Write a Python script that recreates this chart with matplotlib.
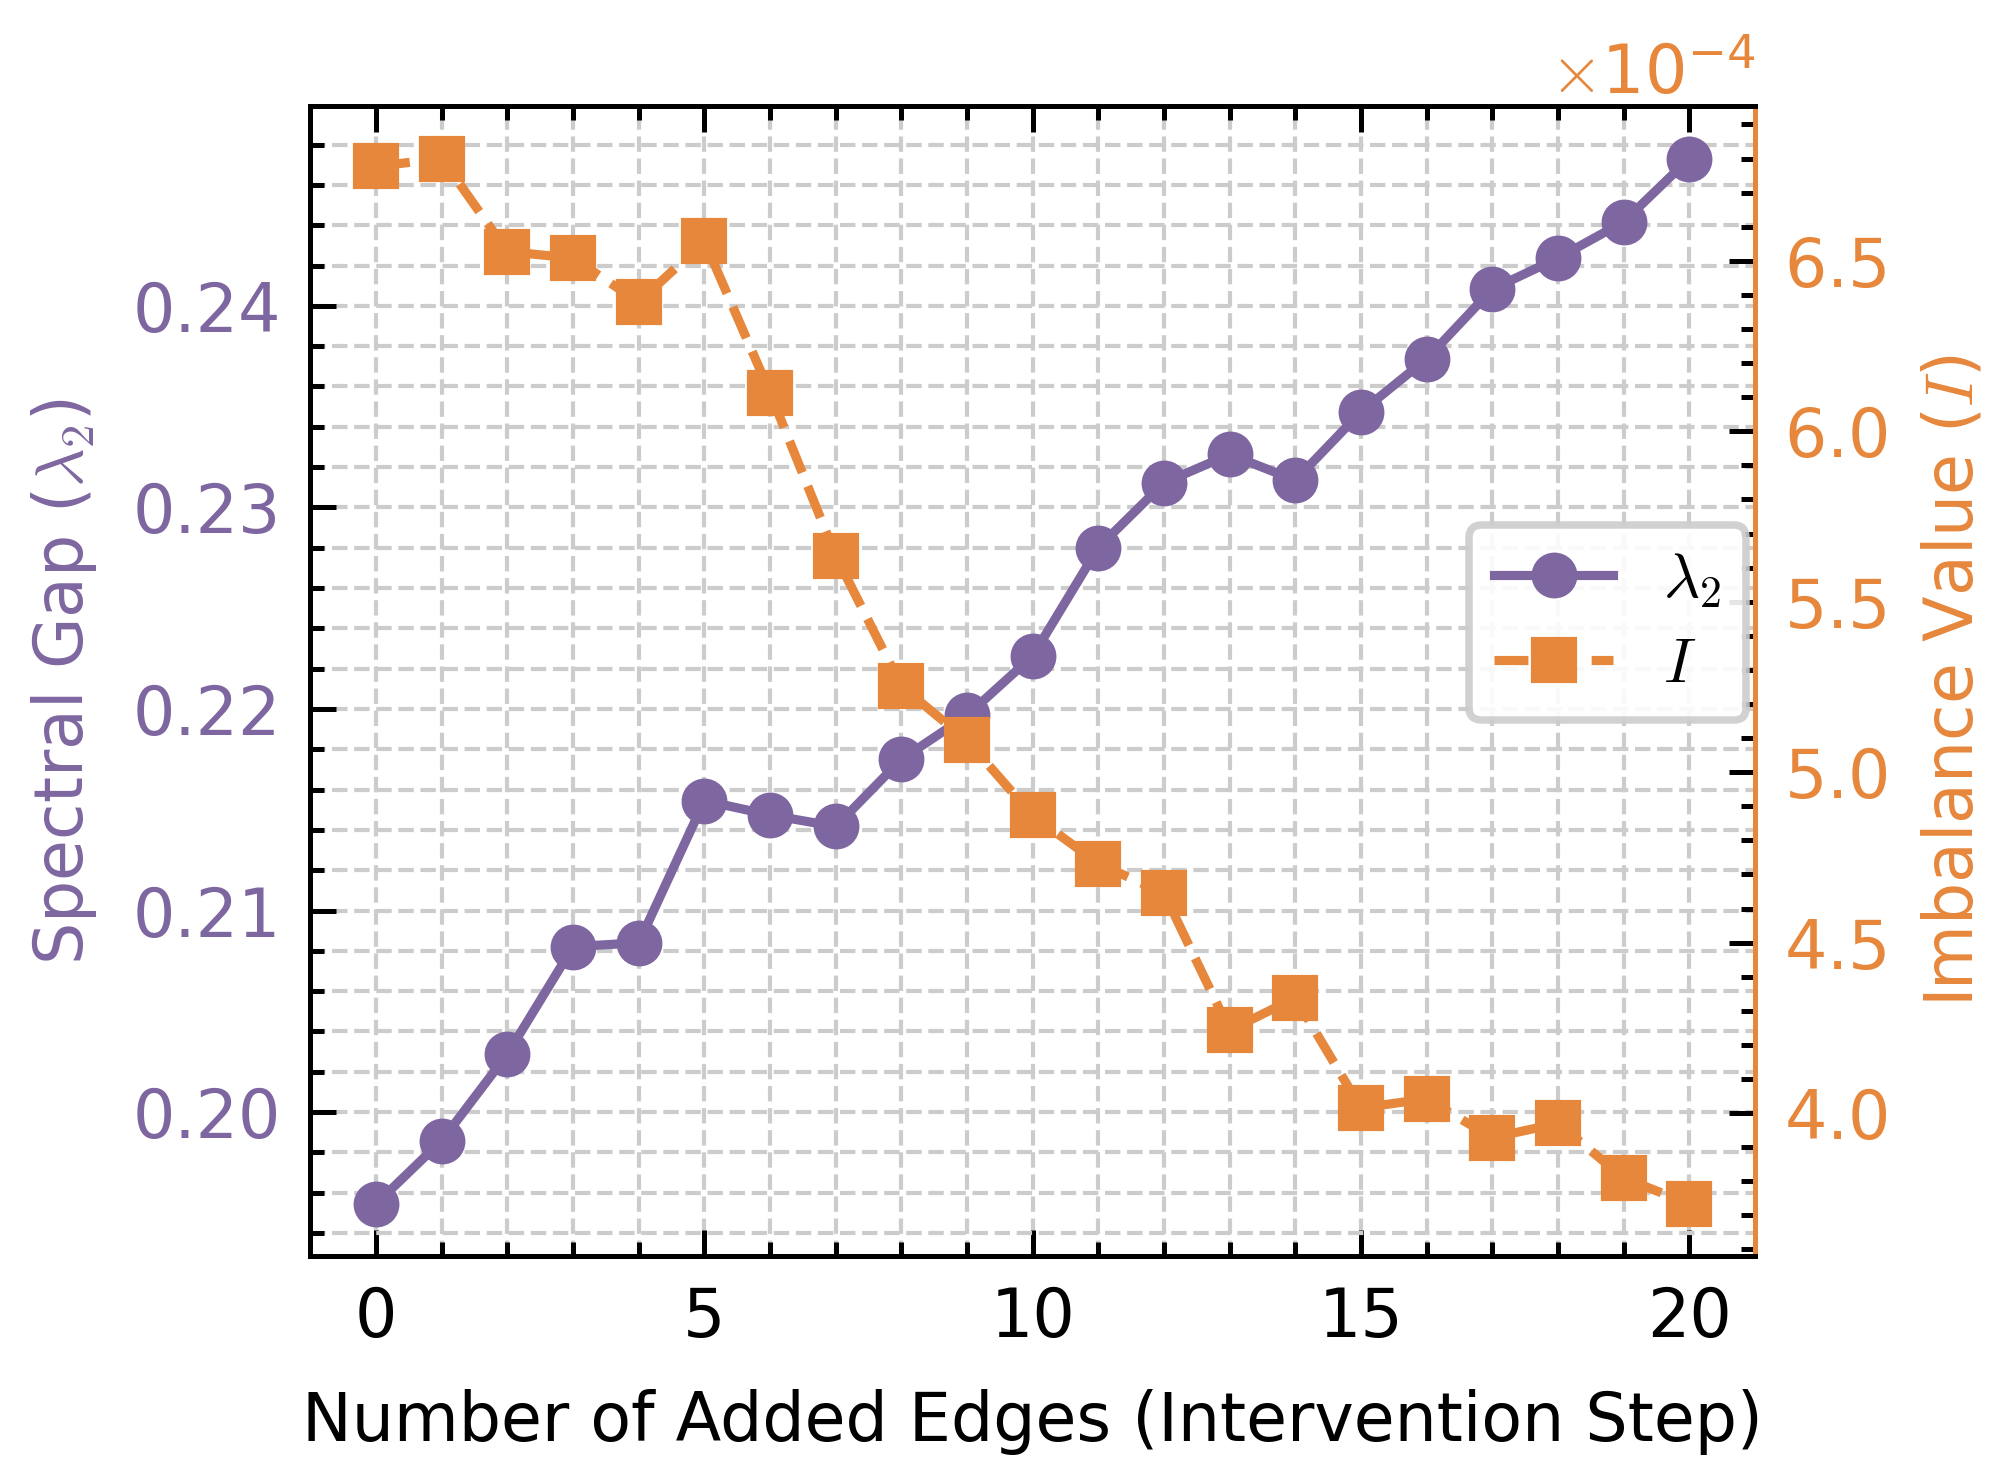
import numpy as np
import matplotlib
matplotlib.use('Agg')
import matplotlib.pyplot as plt
from matplotlib.ticker import MultipleLocator, ScalarFormatter

plt.rcParams['font.family'] = ['DejaVu Sans']
plt.rcParams['mathtext.fontset'] = 'cm'
plt.rcParams['font.size'] = 16

# data
steps = list(range(21))
spectral_gap = [0.19545, 0.19859, 0.20288, 0.20821, 0.20840, 0.21545, 0.21474,
                0.21417, 0.21750, 0.21968, 0.22263, 0.22801, 0.23122, 0.23263,
                0.23135, 0.23474, 0.23737, 0.24083, 0.24237, 0.24417, 0.24731]
imbalance = [6.777, 6.800, 6.527, 6.508, 6.379, 6.557, 6.113, 5.635, 5.252,
             5.093, 4.873, 4.732, 4.645, 4.243, 4.338, 4.015, 4.042, 3.928,
             3.970, 3.810, 3.734]
imbalance = [v * 1e-4 for v in imbalance]

purple = '#7E66A0'
orange = '#E6873C'

fig, ax = plt.subplots(figsize=(6.72, 4.92), dpi=300)
fig.subplots_adjust(left=0.154, right=0.8705, top=0.928, bottom=0.149)

l1, = ax.plot(steps, spectral_gap, color=purple, marker='o', markersize=10,
              linewidth=2.2, label=r'$\lambda_2$')
ax.set_xlabel('Number of Added Edges (Intervention Step)', labelpad=9)
ax.set_ylabel(r'Spectral Gap ($\lambda_2$)', color=purple, labelpad=8)
ax.xaxis.set_major_locator(MultipleLocator(5))
ax.xaxis.set_minor_locator(MultipleLocator(1))
ax.yaxis.set_major_locator(MultipleLocator(0.01))
ax.yaxis.set_minor_locator(MultipleLocator(0.002))
ax.tick_params(axis='y', which='both', labelcolor=purple)
ax.tick_params(which='both', direction='in', top=True, width=1.2, pad=7)
ax.tick_params(which='major', length=6.3)
ax.tick_params(which='minor', length=3.4)
ax.grid(which='both', linestyle='--', color='#cccccc', linewidth=1.0)
ax.set_axisbelow(True)
for sp in ax.spines.values():
    sp.set_linewidth(1.2)

ax2 = ax.twinx()
l2, = ax2.plot(steps, imbalance, color=orange, marker='s', markersize=10,
               linewidth=2.2, linestyle='--', label=r'$I$')
ax2.set_ylabel(r'Imbalance Value ($I$)', color=orange, labelpad=8)
fmt = ScalarFormatter(useMathText=True)
fmt.set_powerlimits((0, 0))
ax2.yaxis.set_major_formatter(fmt)
ax2.yaxis.set_major_locator(MultipleLocator(0.5e-4))
ax2.yaxis.set_minor_locator(MultipleLocator(0.1e-4))
ax2.tick_params(axis='y', which='both', direction='in', labelcolor=orange,
                width=1.2, pad=7)
ax2.tick_params(which='major', length=6.3)
ax2.tick_params(which='minor', length=3.4)
ax2.yaxis.get_offset_text().set_color(orange)
ax2.spines['right'].set_color(orange)
for sp in ax2.spines.values():
    sp.set_linewidth(1.2)

leg = ax2.legend([l1, l2], [r'$\lambda_2$', r'$I$'], loc='center right',
                 bbox_to_anchor=(0.994, 0.551), borderaxespad=0, fontsize=15,
                 labelspacing=0.4, handlelength=1.9,
                 framealpha=0.9, edgecolor='#cccccc')
leg.get_frame().set_linewidth(1.8)

fig.savefig('out.png', dpi=300)
